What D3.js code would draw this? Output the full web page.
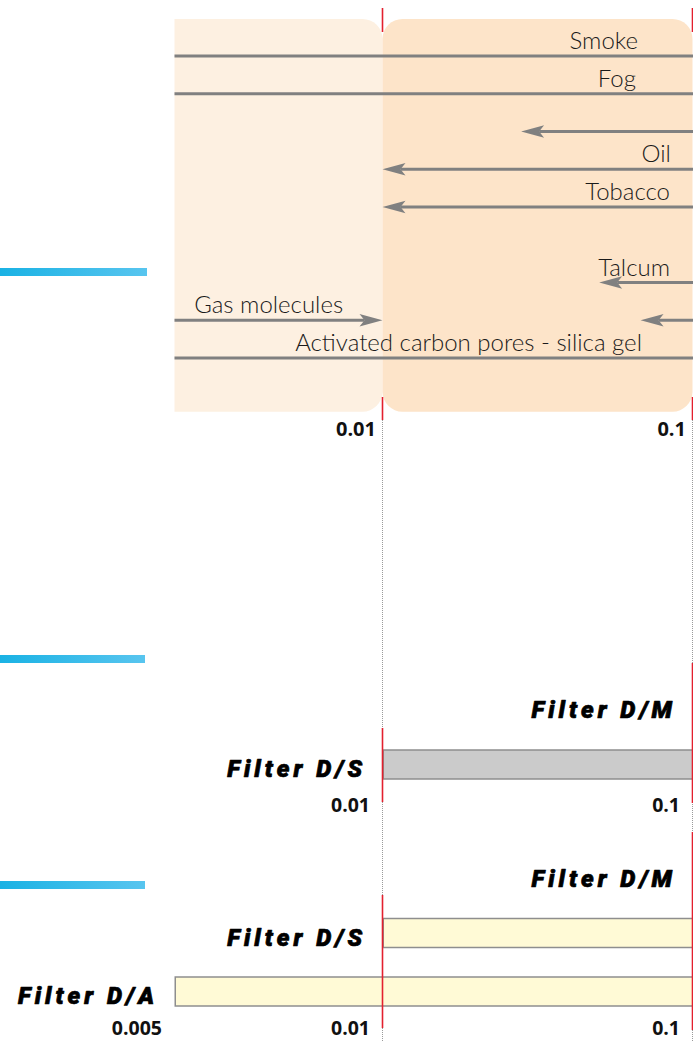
<!DOCTYPE html>
<html><head><meta charset="utf-8">
<script src="https://cdn.jsdelivr.net/npm/d3@7"></script>
<style>html,body{margin:0;padding:0;background:#fff;overflow:hidden;} svg{display:block;}</style>
</head><body><div id="chart"></div>
<script>
// ---------- data ----------
const particleLabels = ["Smoke", "Fog", "", "Oil", "Tobacco", "Talcum", "", "Gas molecules", "Activated carbon pores - silica gel"];
const particleRows   = [0, 1, 2, 3, 4, 6, 7, 7, 8];
const particleFrom   = [0.001, 0.001, 1, 1, 1, 1, 1, 0.001, 0.001];
const particleTo     = [1, 1, 0.028, 0.01, 0.01, 0.05, 0.068, 0.01, 1];
const particleArrow  = [false, false, true, true, true, true, true, true, false];
const particleLabelAt     = [0.0667, 0.0657, null, 0.0852, 0.0846, 0.0846, null, 0.00534, 0.0687];
const particleLabelAnchor = ["end", "end", null, "end", "end", "end", null, "start", "end"];

const regionFrom = [0.005, 0.01];
const regionTo   = [0.01, 0.1];

const filterNames = ["Filter D/M", "Filter D/S", "Filter D/A"];
const filterMin   = [0.1, 0.01, 0.005];
const filterMax   = [1, 1, 1];

const scaleDomain   = [0.005, 0.01, 0.1];
const topTicks      = [0.01, 0.1];
const topTickLabels = ["0.01", "0.1"];
const midTicks      = [0.01, 0.1];
const midTickLabels = ["0.01", "0.1"];
const botTicks      = [0.005, 0.01, 0.1];
const botTickLabels = ["0.005", "0.01", "0.1"];

// ---------- layout ----------
const W = 693, H = 1041;
const x = d3.scaleLog().domain(scaleDomain).range([174.5, 382.5, 692.5]);

const svg = d3.select("#chart").append("svg").attr("width", W).attr("height", H);
const defs = svg.append("defs");
const grad = defs.append("linearGradient").attr("id", "cyan").attr("x1", 0).attr("x2", 1);
grad.append("stop").attr("offset", 0).attr("stop-color", "#1ab2e4");
grad.append("stop").attr("offset", 1).attr("stop-color", "#58c5ef");
defs.append("clipPath").attr("id", "plotclip").append("rect")
  .attr("x", x(0.005)).attr("y", 0).attr("width", W).attr("height", H);

const RED = "#e3202e", LINE = "#808080";

// cyan section bars
[[268, 147], [655, 145], [881, 145]].forEach(([y, w]) => {
  svg.append("rect").attr("x", 0).attr("y", y).attr("width", w).attr("height", 8).attr("fill", "url(#cyan)");
});

// dotted guide lines
svg.selectAll("line.dot").data(topTicks).join("line").attr("class", "dot")
  .attr("x1", d => x(d)).attr("x2", d => x(d)).attr("y1", 420).attr("y2", H)
  .attr("stroke", "#9a9a9a").attr("stroke-width", 1).attr("stroke-dasharray", "1,1");

// ---------- top panel ----------
function roundRect(x0, x1, y0, y1, rl, rr) {
  return `M${x0 + rl},${y0} H${x1 - rr} A${rr},${rr} 0 0 1 ${x1},${y0 + rr} V${y1 - rr} A${rr},${rr} 0 0 1 ${x1 - rr},${y1}` +
         ` H${x0 + rl} A${rl},${rl} 0 0 1 ${x0},${y1 - rl} V${y0 + rl} A${rl},${rl} 0 0 1 ${x0 + rl},${y0} Z`;
}
const regTop = 19, regBot = 411.7;
const regionColors = ["#fdf0e1", "#fde4c9"];
svg.append("g").selectAll("path").data(regionFrom).join("path")
  .attr("d", (d, i) => roundRect(x(d), x(regionTo[i]), regTop, regBot, i === 0 ? 0 : 20, 20))
  .attr("fill", (d, i) => regionColors[i]);

const rowY = r => 56 + r * 37.75;
const pg = svg.append("g").attr("clip-path", "url(#plotclip)");
const HEAD = 23, NOTCH = 5, HW = 6.2;
particleLabels.forEach((lab, i) => {
  const y = rowY(particleRows[i]);
  const xa = x(particleFrom[i]), xb = x(particleTo[i]);
  const dir = Math.sign(xb - xa);
  const lineEnd = particleArrow[i] ? xb - dir * (HEAD - NOTCH) : xb;
  pg.append("line").attr("x1", xa).attr("x2", lineEnd).attr("y1", y).attr("y2", y)
    .attr("stroke", LINE).attr("stroke-width", 3);
  if (particleArrow[i]) {
    const b = xb - dir * HEAD, n = xb - dir * (HEAD - NOTCH);
    pg.append("path").attr("d", `M${xb},${y} L${b},${y - HW} L${n},${y} L${b},${y + HW} Z`).attr("fill", LINE);
  }
  if (lab) {
    pg.append("text").attr("x", x(particleLabelAt[i])).attr("y", y - 7)
      .attr("text-anchor", particleLabelAnchor[i])
      .style("font-family", "Lato, sans-serif").style("font-weight", 300).style("font-size", "24px")
      .attr("fill", "#1a1a1a").text(lab);
  }
});

// top red ticks
topTicks.forEach(t => {
  [[8, 32], [397, 420]].forEach(([a, b]) => {
    svg.append("line").attr("x1", x(t)).attr("x2", x(t)).attr("y1", a).attr("y2", b)
      .attr("stroke", RED).attr("stroke-width", 1.6);
  });
});

function tickAxis(ticks, labels, baseline, dx, size) {
  const ax = d3.axisBottom(x).tickValues(ticks).tickSize(0).tickPadding(0)
    .tickFormat((d, i) => labels[i]);
  const g = svg.append("g").attr("transform", `translate(0,${baseline})`).call(ax);
  g.select(".domain").remove();
  g.selectAll("text").attr("text-anchor", "end").attr("dx", dx).attr("dy", 0).attr("y", 0)
    .style("font-family", "'Open Sans', sans-serif").style("font-weight", 700).style("font-size", size)
    .attr("fill", "#111");
  return g;
}
tickAxis(topTicks, topTickLabels, 436, -7, "20px");

// ---------- filter panels ----------
const SPACING = 4;
function filterPanel(n, firstTop, step, fill, redSpans, ticks, tickLabels, tickBase) {
  const g = svg.append("g");
  for (let i = 0; i < n; i++) {
    const top = firstTop + i * step;
    g.append("rect").attr("x", x(filterMin[i]) + 0.75).attr("y", top)
      .attr("width", x(filterMax[i]) - x(filterMin[i])).attr("height", 29)
      .attr("fill", fill).attr("stroke", "#8e8e8e").attr("stroke-width", 1.5);
    g.append("text").attr("x", x(filterMin[i]) - 20.5 + SPACING).attr("y", top + 27)
      .attr("text-anchor", "end")
      .style("font-family", "Roboto, sans-serif").style("font-weight", 900).style("font-style", "italic")
      .style("font-size", "24px").style("letter-spacing", SPACING + "px")
      .attr("fill", "#000").attr("stroke", "#000").attr("stroke-width", 0.7)
      .attr("stroke-linejoin", "round").text(filterNames[i]);
  }
  redSpans.forEach(([t, a, b]) => {
    g.append("line").attr("x1", x(t)).attr("x2", x(t)).attr("y1", a).attr("y2", b)
      .attr("stroke", RED).attr("stroke-width", 1.6);
  });
  tickAxis(ticks, tickLabels, tickBase, -13, "19.5px");
}
filterPanel(2, 691, 59, "#cbcbcb", [[0.01, 728, 802], [0.1, 663, 803]], midTicks, midTickLabels, 812);
filterPanel(3, 860, 58.5, "#fffad6", [[0.01, 895, 1028], [0.1, 832, 1030]], botTicks, botTickLabels, 1035);
</script>
</body></html>
